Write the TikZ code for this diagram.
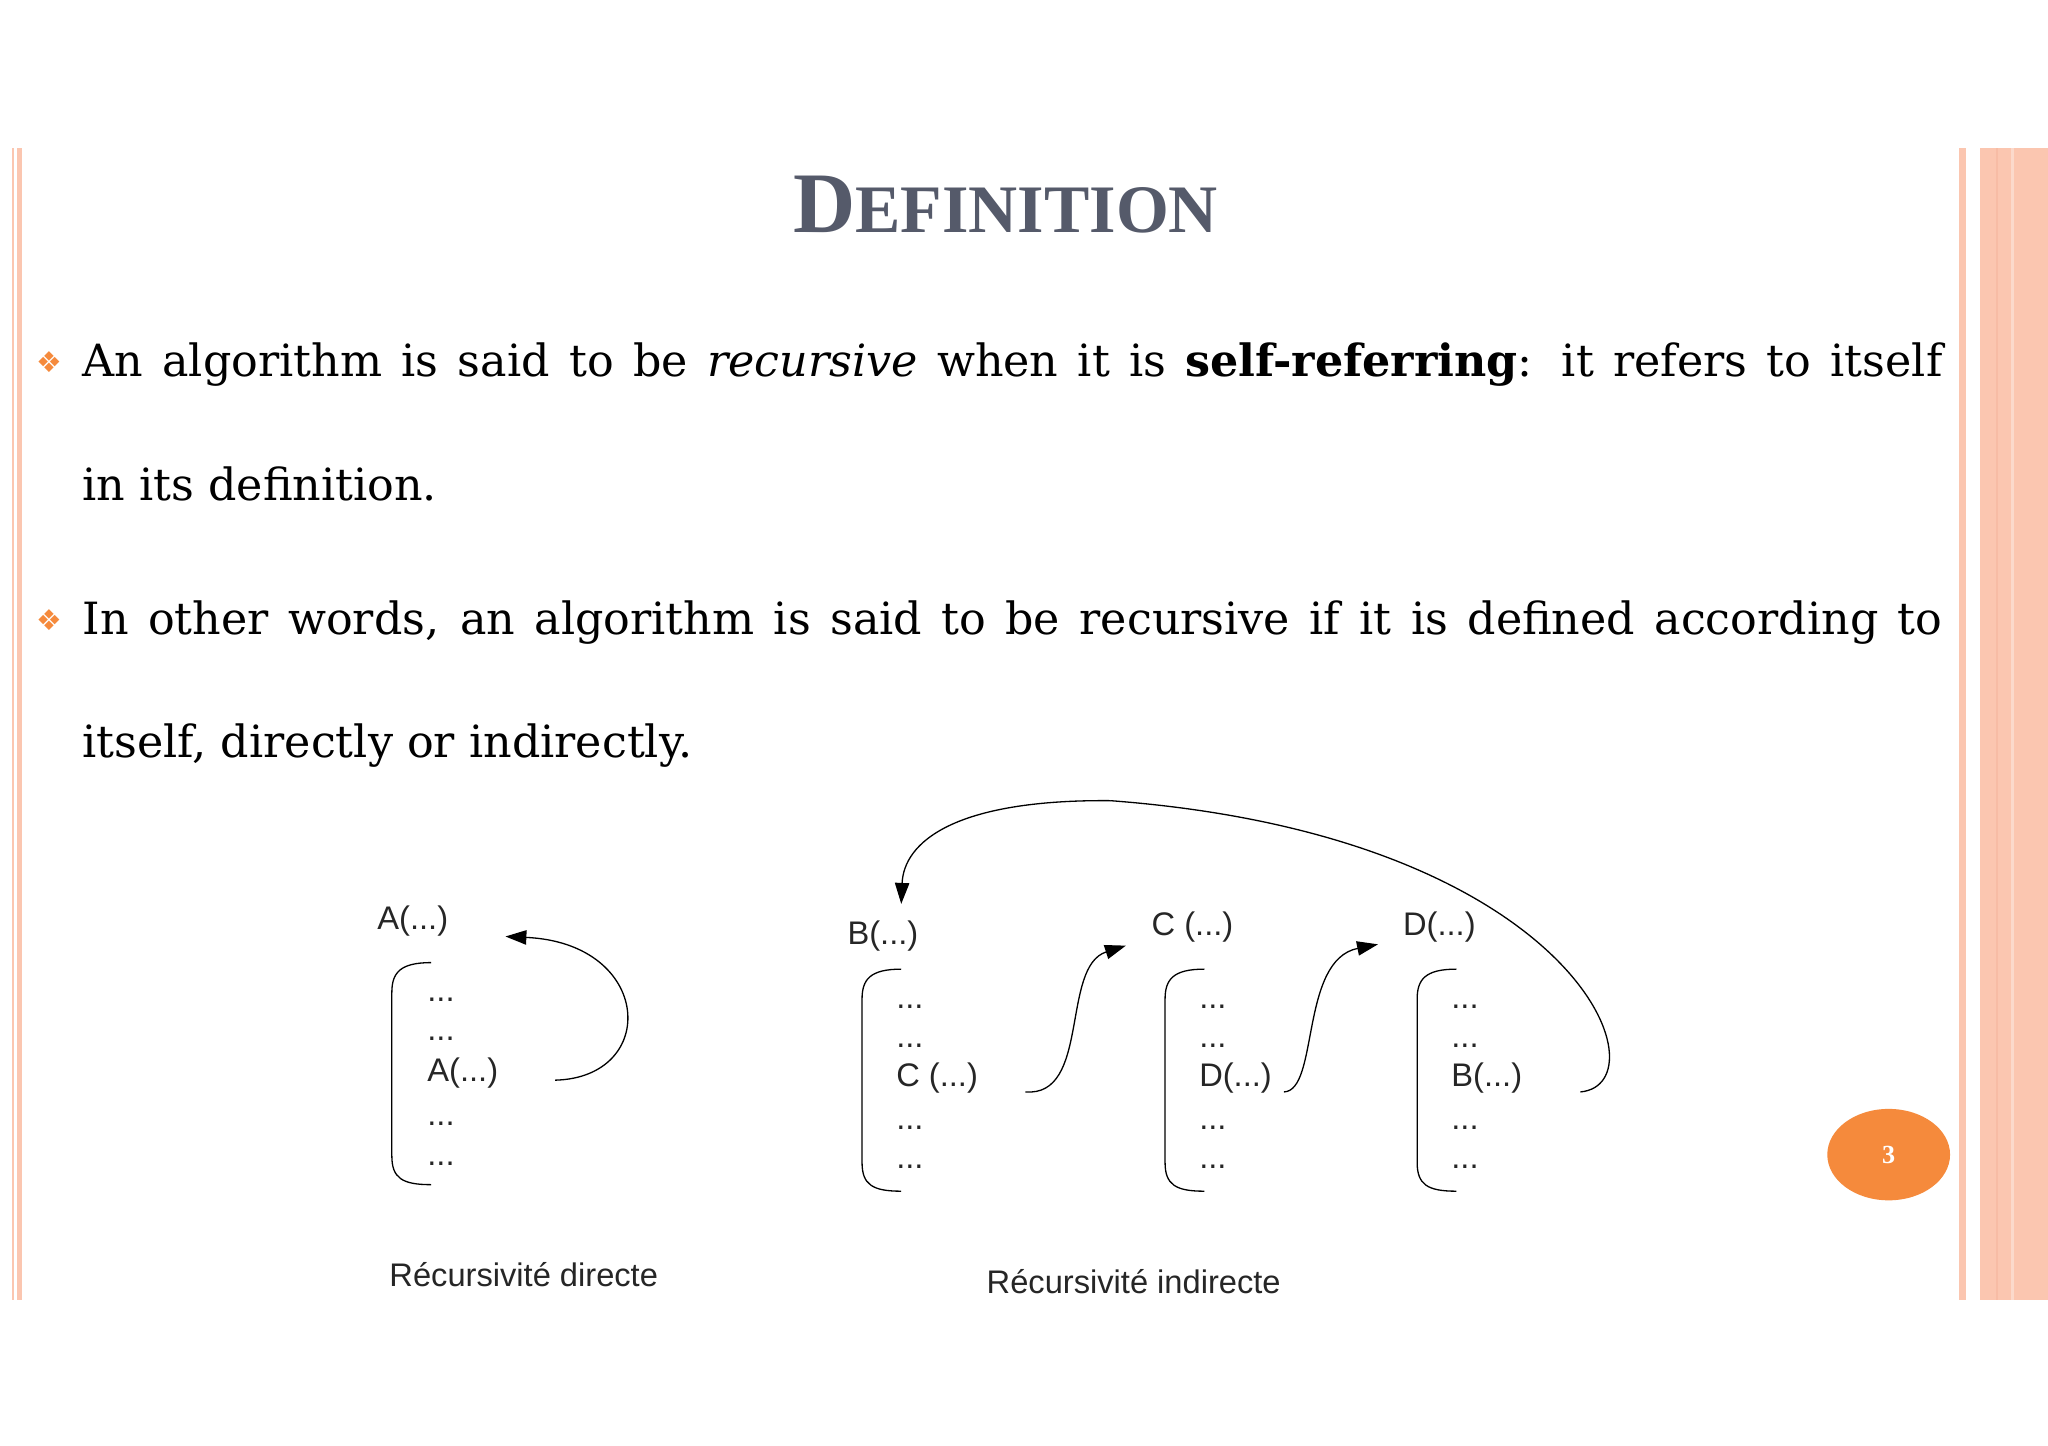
\documentclass[tikz,border=0pt]{standalone}
\usepackage{fontspec}
\setmainfont{DejaVu Serif}
\setsansfont{Liberation Sans}
\newfontfamily\titlefont{Liberation Serif}
\newfontfamily\symfont{DejaVu Sans}
\usetikzlibrary{arrows.meta,shapes.geometric}
\definecolor{salmon}{HTML}{FBC6B0}
\definecolor{darksal}{HTML}{F4A07E}
\definecolor{orng}{HTML}{F58A3C}
\definecolor{titlec}{HTML}{555A6A}
\begin{document}
\begin{tikzpicture}[x=1pt,y=-1pt,
  body/.style={anchor=base west,inner sep=0,font=\fontsize{34}{40}\selectfont},
  lab/.style={inner sep=0,font=\sffamily\fontsize{25}{30}\selectfont,text=black!85},
  itm/.style={lab,anchor=base west},
  brk/.style={line width=1pt},
  arr/.style={line width=1pt,-{Triangle[length=16pt,width=11pt]}},
  bul/.style={anchor=base west,inner sep=0,text=orng,font=\symfont\fontsize{22}{22}\selectfont}]
\useasboundingbox (0,0) rectangle (1568,1107);
\fill[white] (0,0) rectangle (1568,1107);
% borders
\fill[salmon] (9,113) rectangle (11,995);
\fill[salmon] (13,113) rectangle (17,995);
\fill[salmon] (1500,113) rectangle (1505,995);
\fill[salmon] (1516,113) rectangle (1568,995);
\fill[darksal!70] (1528,113) rectangle (1530,995);
\fill[darksal!40] (1540,113) rectangle (1542,995);
% title
\node[anchor=base,inner sep=0,text=titlec] (title) at (770,178)
  {\titlefont\bfseries\fontsize{66}{66}\selectfont D\fontsize{52}{52}\selectfont EFINITION};
% text
\node[bul] (b1) at (28,285) {❖};
\node[body] (t1) at (63,288) {\makebox[1424pt][s]{An algorithm is said to be \textit{recursive} when it is \textbf{self-referring}: it refers to itself}};
\node[body] (t2) at (63,383) {in its definition.};
\node[bul] (b2) at (28,483) {❖};
\node[body] (t3) at (63,486) {\makebox[1424pt][s]{In other words, an algorithm is said to be recursive if it is defined according to}};
\node[body] (t4) at (63,580) {itself, directly or indirectly.};
% direct
\node[lab] (A) at (316,705) {A(...)};
\draw[brk] (330,737) .. controls (306,737) and (300,745) .. (300,760) -- (300,885) .. controls (300,902) and (308,907) .. (330,907);
\node[itm] (a1) at (327,767) {...};
\node[itm] (a2) at (327,797) {...};
\node[itm] (a3) at (327,828) {A(...)};
\node[itm] (a4) at (327,862) {...};
\node[itm] (a5) at (327,892) {...};
\coordinate (as) at (425,827);
\coordinate (ae) at (387,717);
\draw[arr] (as) .. controls (505,825) and (500,722) .. (ae);
\node[lab] (ld) at (401,976) {Récursivité directe};
% indirect
\node[lab] (B) at (676,717) {B(...)};
\draw[brk] (690,742) .. controls (666,742) and (660,750) .. (660,765) -- (660,890) .. controls (660,907) and (668,912) .. (690,912);
\node[itm] (b1i) at (686,772) {...};
\node[itm] (b2i) at (686,802) {...};
\node[itm] (b3i) at (686,832) {C (...)};
\node[itm] (b4i) at (686,865) {...};
\node[itm] (b5i) at (686,895) {...};
\node[lab] (C) at (913,710) {C (...)};
\draw[brk] (922,742) .. controls (898,742) and (892,750) .. (892,765) -- (892,890) .. controls (892,907) and (900,912) .. (922,912);
\node[itm] (c1) at (918,772) {...};
\node[itm] (c2) at (918,802) {...};
\node[itm] (c3) at (918,832) {D(...)};
\node[itm] (c4) at (918,865) {...};
\node[itm] (c5) at (918,895) {...};
\node[lab] (D) at (1102,710) {D(...)};
\draw[brk] (1115,742) .. controls (1091,742) and (1085,750) .. (1085,765) -- (1085,890) .. controls (1085,907) and (1093,912) .. (1115,912);
\node[itm] (d1) at (1111,772) {...};
\node[itm] (d2) at (1111,802) {...};
\node[itm] (d3) at (1111,832) {B(...)};
\node[itm] (d4) at (1111,865) {...};
\node[itm] (d5) at (1111,895) {...};
\coordinate (s1) at (785,836);
\coordinate (e1) at (862,724);
\draw[arr] (s1) .. controls (835,840) and (812,740) .. (e1);
\coordinate (s2) at (983,836);
\coordinate (e2) at (1055,723);
\draw[arr] (s2) .. controls (1010,835) and (995,735) .. (e2);
\coordinate (s3) at (1210,836);
\coordinate (m3) at (850,613);
\coordinate (e3) at (690,692);
\draw[line width=1pt] (s3) .. controls (1275,830) and (1210,640) .. (m3);
\draw[arr] (m3) .. controls (730,612) and (692,645) .. (e3);
\node[lab] (li) at (868,981) {Récursivité indirecte};
% page number
\node[ellipse,fill=orng,minimum width=94pt,minimum height=70pt,inner sep=0,text=white,font=\titlefont\bfseries\fontsize{20}{20}\selectfont] (pg) at (1446,884) {3};
\end{tikzpicture}
\end{document}
